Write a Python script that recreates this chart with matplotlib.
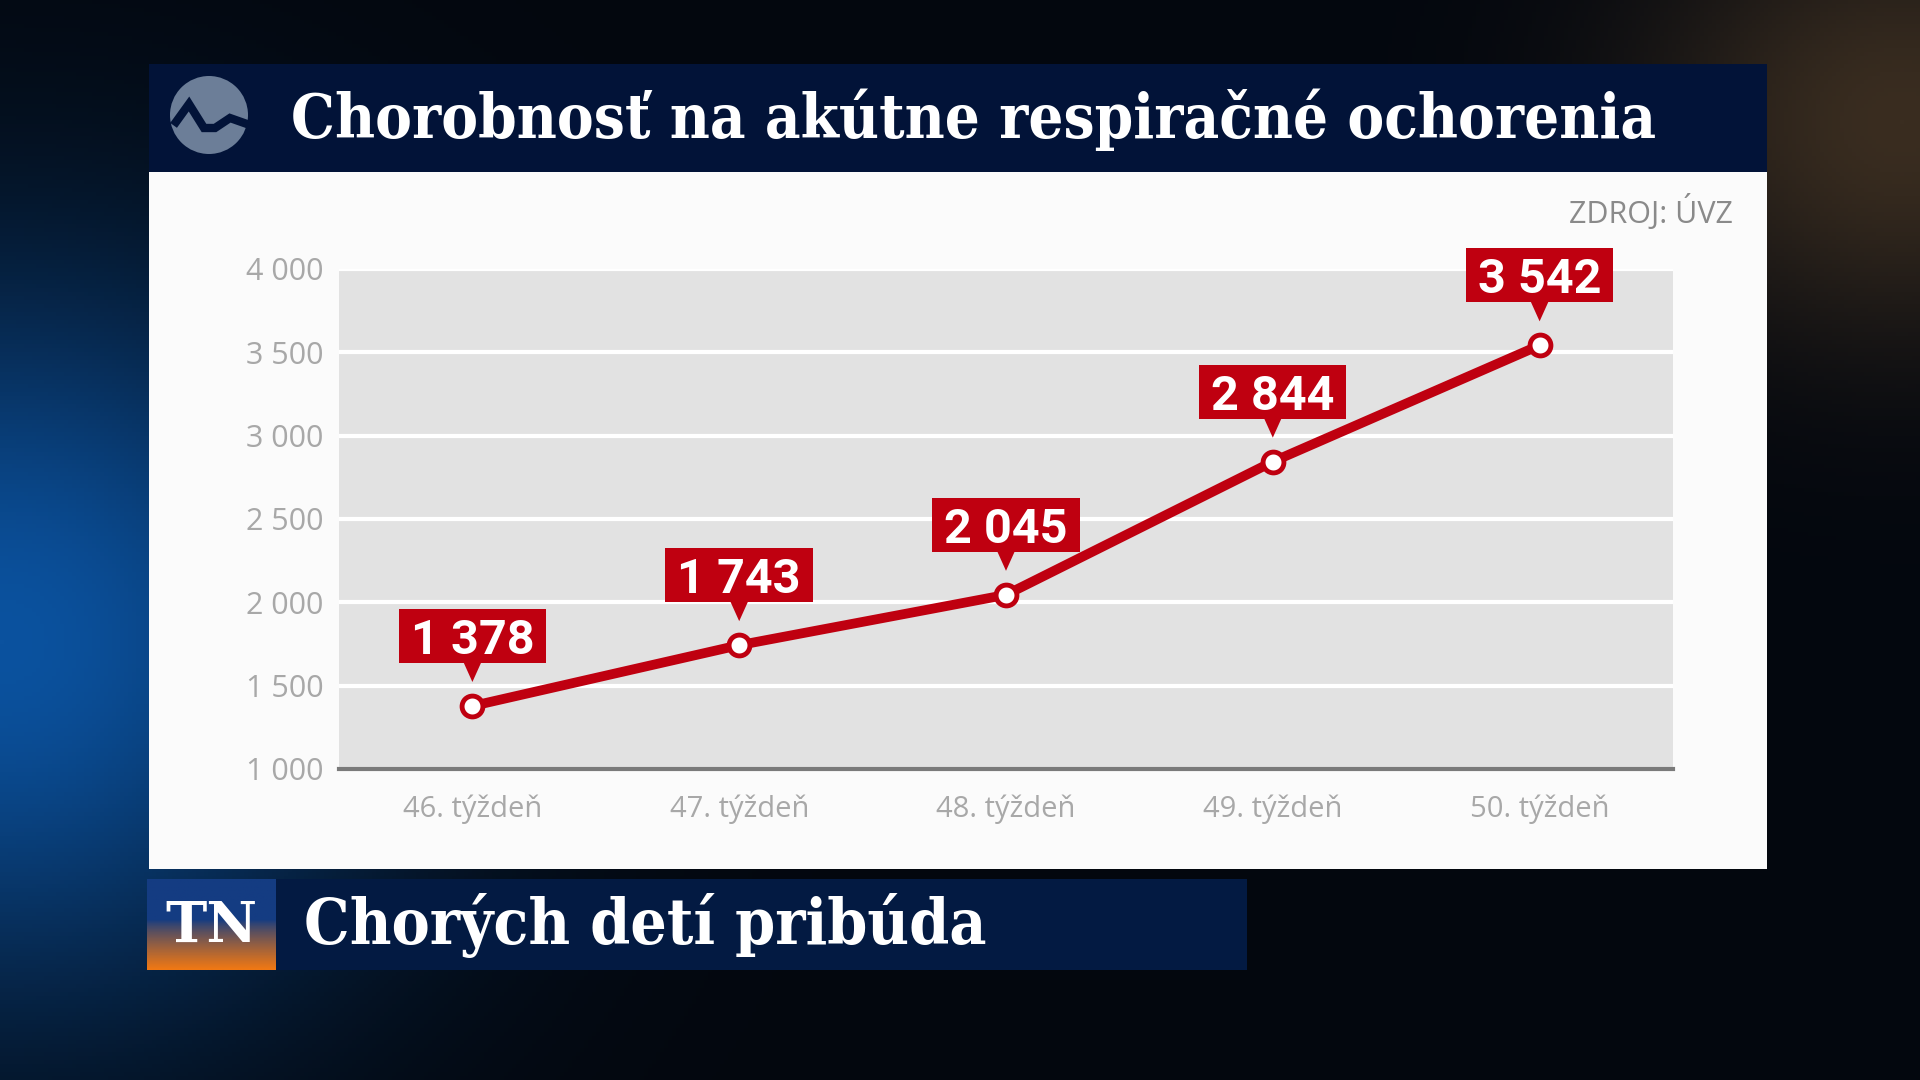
import numpy as np
import matplotlib.pyplot as plt
from matplotlib.patches import Rectangle, Circle, Polygon
from matplotlib.transforms import IdentityTransform

weeks = ['46. týždeň', '47. týždeň', '48. týždeň', '49. týždeň', '50. týždeň']
cases = [1378, 1743, 2045, 2844, 3542]
yticks = [1000, 1500, 2000, 2500, 3000, 3500, 4000]

title = 'Chorobnosť na akútne respiračné ochorenia'
source = 'ZDROJ: ÚVZ'
banner = 'Chorých detí pribúda'

RED = '#bf0010'
NAVY = '#021338'
W, H = 1920, 1080

fig = plt.figure(figsize=(19.2, 10.8), dpi=100)

# background: dark sky with a blue glow on the left and a faint warm glow top right
bg = fig.add_axes([0, 0, 1, 1])
yy, xx = np.mgrid[0:H:4, 0:W:4]
img = np.zeros(xx.shape + (3,))
img[:] = np.array([3, 7, 14]) / 255
blue = np.exp(-(((xx - 0) / 380) ** 2 + ((yy - 640) / 360) ** 2))
warm = np.exp(-(((xx - 1900) / 260) ** 2 + ((yy - 120) / 220) ** 2))
img += blue[..., None] * np.array([8, 75, 145]) / 255
img += warm[..., None] * np.array([55, 38, 18]) / 255
bg.imshow(np.clip(img, 0, 1), extent=[0, W, H, 0], aspect='auto')
bg.set_xlim(0, W)
bg.set_ylim(H, 0)
bg.axis('off')

# title bar and white panel
bg.add_patch(Rectangle((149, 64), 1618, 108, fc=NAVY, ec='none'))
bg.add_patch(Rectangle((149, 172), 1618, 697, fc='#fbfbfb', ec='none'))
bg.add_patch(Circle((209, 115), 39, fc='#6c7e98', ec='none'))
bg.plot([176, 189, 204, 215, 230, 247], [122, 104, 128, 128, 118, 124],
        color=NAVY, lw=6, solid_joinstyle='miter')
bg.text(291, 120, title, color='white', fontsize=44.3, fontweight='bold',
        family='DejaVu Serif', fontstretch='condensed', va='center', ha='left')
bg.text(1733, 212, source, color='#8a8a8a', fontsize=22, family='Open Sans',
        va='center', ha='right')

# bottom banner with TN logo
grad = np.linspace(0, 1, 60)[:, None]
logo = np.zeros((60, 2, 3))
top_c = np.array([20, 60, 130]) / 255
bot_c = np.array([240, 120, 20]) / 255
mix = np.clip((grad - 0.45) / 0.55, 0, 1) ** 0.8
logo[:] = (top_c * (1 - mix) + bot_c * mix)[:, None, :]
bg.imshow(logo, extent=[147, 276, 970, 879], aspect='auto', zorder=2)
bg.add_patch(Rectangle((276, 879), 971, 91, fc='#031a42', ec='none', zorder=2))
bg.text(211, 926, 'TN', color='white', fontsize=40, fontweight='bold',
        family='DejaVu Serif', va='center', ha='center', zorder=3)
bg.text(304, 926, banner, color='white', fontsize=46, fontweight='bold',
        family='DejaVu Serif', fontstretch='condensed', va='center', ha='left', zorder=3)

# chart
ax = fig.add_axes([339 / W, (H - 769) / H, (1673 - 339) / W, 500 / H])
ax.set_facecolor('#e2e2e2')
x = np.arange(len(weeks))
ax.plot(x, cases, color=RED, lw=7, marker='o', ms=15, mfc='white',
        mec=RED, mew=3.5, zorder=4, clip_on=False)
ax.set_xlim(-0.5, len(weeks) - 0.5)
ax.set_ylim(yticks[0], yticks[-1])
ax.set_yticks(yticks)
ax.set_yticklabels([f'{v:,}'.replace(',', ' ') for v in yticks])
ax.set_xticks(x)
ax.set_xticklabels(weeks)
ax.grid(axis='y', color='white', lw=3)
ax.set_axisbelow(True)
for s in ['top', 'right', 'left']:
    ax.spines[s].set_visible(False)
ax.spines['bottom'].set_color('#7a7a7a')
ax.spines['bottom'].set_linewidth(3)
ax.tick_params(length=0, labelcolor='#a8a8a8', labelsize=21)
ax.tick_params(axis='y', labelsize=22, pad=11)
ax.tick_params(axis='x', pad=18)
for t in ax.get_xticklabels() + ax.get_yticklabels():
    t.set_family('Open Sans')

# value labels: red boxes with a pointer
fig.canvas.draw()
renderer = fig.canvas.get_renderer()
for i, v in zip(x, cases):
    px, py = ax.transData.transform((i, v))
    label = f'{v:,}'.replace(',', ' ')
    t = fig.text(px, py + 70, label, color='white', fontsize=35,
                 fontweight='bold', family='Roboto', ha='center',
                 va='center_baseline', transform=IdentityTransform(), zorder=6)
    tw = t.get_window_extent(renderer).width
    bw = tw + 24
    fig.add_artist(Rectangle((px - bw / 2, py + 43), bw, 54, fc=RED, ec='none',
                             transform=IdentityTransform(), zorder=5))
    fig.add_artist(Polygon([(px - 9, py + 44), (px + 9, py + 44), (px, py + 24)],
                           fc=RED, ec='none', transform=IdentityTransform(), zorder=5))

fig.savefig('out.png', dpi=100)
